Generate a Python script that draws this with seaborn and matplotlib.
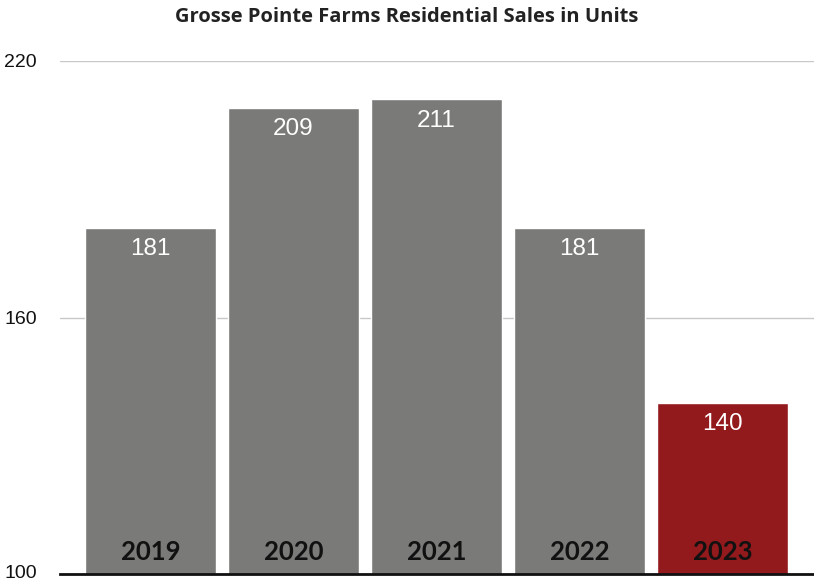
import matplotlib
matplotlib.use("Agg")
import matplotlib.pyplot as plt
import matplotlib.transforms as mtransforms
import seaborn as sns
import pandas as pd

years = ["2019", "2020", "2021", "2022", "2023"]
sales = [181, 209, 211, 181, 140]
bar_colors = ["#7a7a78", "#7a7a78", "#7a7a78", "#7a7a78", "#92191c"]
y_ticks = [100, 160, 220]

sns.set_theme(style="white")
plt.rcParams["font.family"] = ["Liberation Sans", "DejaVu Sans"]

df = pd.DataFrame({"year": years, "sales": sales})

fig = plt.figure(figsize=(8.14, 5.82), dpi=100)
ax = fig.add_axes([60 / 814, 8 / 582, 1 - 60 / 814, (574 - 61) / 582])

sns.barplot(data=df, x="year", y="sales", hue="year", palette=bar_colors,
            legend=False, width=0.916, saturation=1, ax=ax, zorder=3)

ax.set_ylim(100, 220)
ax.set_xlim(-0.633, 4.64)
ax.set_yticks(y_ticks)
ax.set_yticklabels([str(t) for t in y_ticks], fontsize=14, color="#111111")
ax.tick_params(axis="y", length=0, pad=16.5)
ax.set_xticks([])
ax.set_xlabel("")
ax.set_ylabel("")

# keep the lowest tick label clear of the figure's bottom edge
for lbl in ax.get_yticklabels():
    if lbl.get_text() == "100":
        lbl.set_transform(lbl.get_transform() +
                          mtransforms.ScaledTranslation(0, 3 / 100, fig.dpi_scale_trans))

for t in y_ticks[1:]:
    ax.axhline(t, color="#c8c8c8", lw=1, zorder=1)

for s in ["top", "right", "left"]:
    ax.spines[s].set_visible(False)
ax.spines["bottom"].set_color("#111111")
ax.spines["bottom"].set_linewidth(2)
ax.spines["bottom"].set_zorder(5)

for i, (yr, v) in enumerate(zip(years, sales)):
    ax.annotate(str(v), xy=(i, v), xytext=(0, -7.5), textcoords="offset points",
                ha="center", va="top", color="white", fontsize=17.5)
    ax.annotate(yr, xy=(i, 100), xytext=(0, 7), textcoords="offset points",
                ha="center", va="bottom", color="#111111", fontsize=18.5,
                fontweight="bold", family=["Lato", "DejaVu Sans"])

fig.text(0.5, 1 - 17 / 582, "Grosse Pointe Farms Residential Sales in Units",
         ha="center", va="center", fontsize=14.5, fontweight="bold",
         color="#222222", family=["Open Sans", "DejaVu Sans"])

fig.savefig("out.png", dpi=100)
